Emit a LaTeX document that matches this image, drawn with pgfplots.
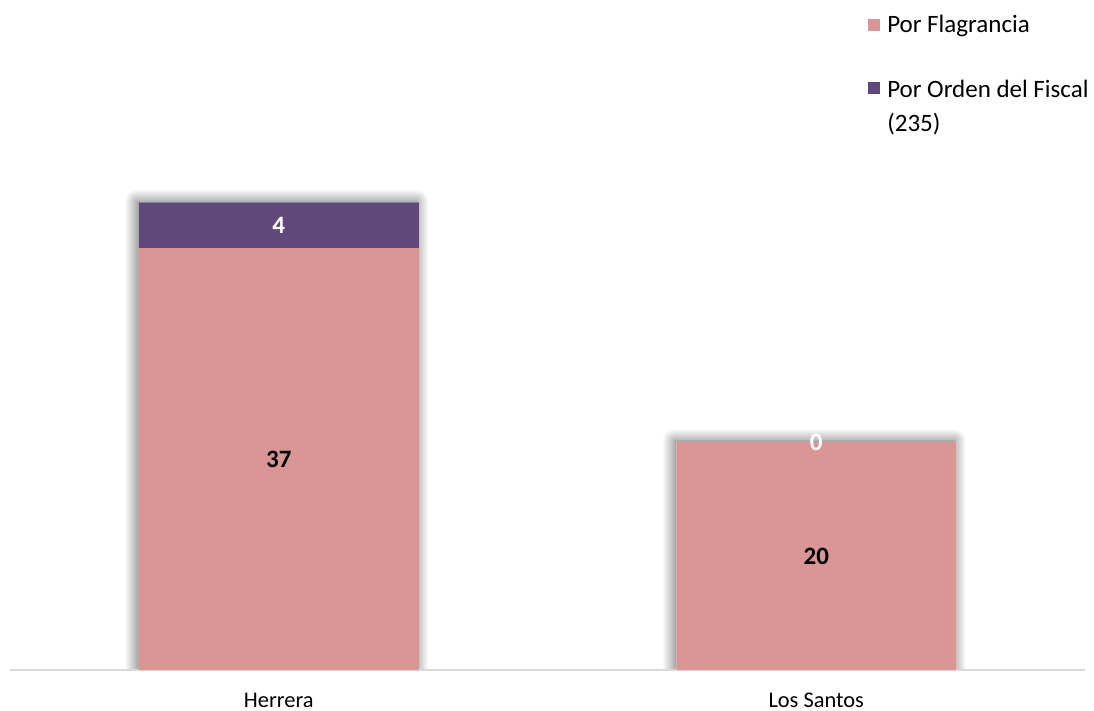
\documentclass[border=0pt]{standalone}
\usepackage{pgfplots}
\pgfplotsset{compat=1.18}
\usepackage{fontspec}
\setmainfont{Carlito}
\usetikzlibrary{shadows.blur}

\definecolor{flag}{HTML}{DA9694}
\definecolor{fiscal}{HTML}{60497A}
\definecolor{axisgray}{HTML}{D9D9D9}

\pgfplotsset{base/.style={
  at={(0,0)}, anchor=south west,
  scale only axis,
  width=537.5pt, height=260pt,
  ybar stacked, bar width=140pt,
  xmin=-0.5, xmax=1.5, ymin=0, ymax=45.6,
}}

\begin{document}
\begin{tikzpicture}
% shadow behind the whole stacks
\begin{axis}[base, hide axis]
\addplot[fill=white, draw=none,
  blur shadow={shadow xshift=-1pt, shadow yshift=0.5pt,
    shadow blur radius=6pt, shadow blur steps=12, shadow opacity=60}]
  coordinates {(0,41) (1,20)};
\end{axis}

\begin{axis}[base,
  xtick={0,1}, xticklabels={Herrera,Los Santos},
  ytick=\empty,
  axis lines*=left,
  y axis line style={draw=none},
  x axis line style={draw=axisgray, line width=1pt},
  xtick style={draw=none},
  xticklabel style={font=\fontsize{11.2}{13}\selectfont, yshift=-8pt},
  /pgf/number format/assume math mode=true,
  stacked ignores zero=false,
  nodes near coords,
  every node near coord/.append style={anchor=center,
    font=\fontsize{12.5}{15}\selectfont\bfseries},
  legend style={at={(0.798,1.261)}, anchor=north west, draw=none, fill=none,
    inner sep=0pt, row sep=22.5pt, font=\fontsize{12.5}{17}\selectfont,
    nodes={inner sep=0pt, align=left},
    /tikz/every odd column/.append style={column sep=3.5pt}},
  legend cell align=left,
]
\addplot[fill=flag, draw=none,
  every node near coord/.append style={text=black},
  legend image code/.code={\fill[flag] (0pt,-3pt) rectangle (6pt,3pt);}]
  coordinates {(0,37) (1,20)};
\addlegendentry{Por Flagrancia}
\addplot[fill=fiscal, draw=none,
  every node near coord/.append style={text=white},
  legend image code/.code={\fill[fiscal] (0pt,6.5pt) rectangle (6pt,12.5pt);
    \path (0pt,-12.5pt);}]
  coordinates {(0,4) (1,0)};
\addlegendentry{Por Orden del Fiscal\\(235)}
\end{axis}
\pgfresetboundingbox
\path[use as bounding box] (-5pt,-20.5pt) rectangle (542pt,335pt);
\end{tikzpicture}
\end{document}
